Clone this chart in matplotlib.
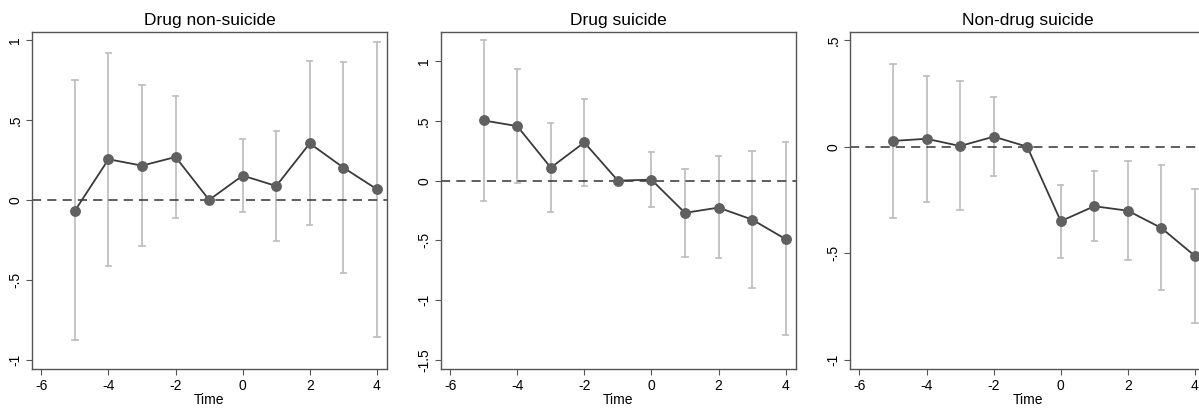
import matplotlib.pyplot as plt
from matplotlib.ticker import FuncFormatter

plt.rcParams["font.family"] = ["Liberation Sans", "DejaVu Sans"]

time = [-5, -4, -3, -2, -1, 0, 1, 2, 3, 4]

titles = ["Drug non-suicide", "Drug suicide", "Non-drug suicide"]

drug_nonsuicide = [-0.067, 0.254, 0.214, 0.268, 0.0, 0.152, 0.087, 0.353, 0.202, 0.067]
drug_nonsuicide_lo = [-0.875, -0.412, -0.285, -0.110, 0.0, -0.073, -0.256, -0.158, -0.455, -0.857]
drug_nonsuicide_hi = [0.748, 0.919, 0.715, 0.647, 0.0, 0.380, 0.430, 0.867, 0.859, 0.983]

drug_suicide = [0.504, 0.457, 0.109, 0.320, 0.0, 0.008, -0.270, -0.226, -0.326, -0.490]
drug_suicide_lo = [-0.167, -0.022, -0.262, -0.042, 0.0, -0.220, -0.641, -0.649, -0.900, -1.295]
drug_suicide_hi = [1.175, 0.939, 0.479, 0.680, 0.0, 0.237, 0.097, 0.203, 0.248, 0.320]

nondrug_suicide = [0.027, 0.037, 0.003, 0.047, 0.0, -0.349, -0.279, -0.300, -0.381, -0.512]
nondrug_suicide_lo = [-0.334, -0.257, -0.298, -0.139, 0.0, -0.521, -0.443, -0.530, -0.671, -0.825]
nondrug_suicide_hi = [0.388, 0.329, 0.307, 0.231, 0.0, -0.179, -0.115, -0.066, -0.087, -0.200]

x_ticks = [-6, -4, -2, 0, 2, 4]
y_ticks = [
    [-1, -0.5, 0, 0.5, 1],
    [-1.5, -1, -0.5, 0, 0.5, 1],
    [-1, -0.5, 0, 0.5],
]
y_limits = [(-1.056, 1.048), (-1.579, 1.245), (-1.042, 0.537)]


def stata_fmt(v, pos):
    if abs(v) < 1e-9:
        return "0"
    s = ("%g" % v)
    s = s.replace("0.", ".")
    return s


series = [
    (drug_nonsuicide, drug_nonsuicide_lo, drug_nonsuicide_hi),
    (drug_suicide, drug_suicide_lo, drug_suicide_hi),
    (nondrug_suicide, nondrug_suicide_lo, nondrug_suicide_hi),
]

fig = plt.figure(figsize=(11.99, 4.11), dpi=100)
lefts = [0.0267, 0.3676, 0.709]

for i, (est, lo, hi) in enumerate(series):
    ax = fig.add_axes([lefts[i], 0.102, 0.296, 0.820])
    for t, l, h in zip(time, lo, hi):
        if h == l:
            continue
        ax.plot([t, t], [l, h], color="#c0c0c0", lw=1.3, zorder=1)
        ax.plot([t - 0.08, t + 0.08], [l, l], color="#c0c0c0", lw=1.3, zorder=1)
        ax.plot([t - 0.08, t + 0.08], [h, h], color="#c0c0c0", lw=1.3, zorder=1)
    ax.axhline(0, color="#333333", lw=1.1, ls=(0, (6, 4)), zorder=2)
    ax.plot(time, est, color="#3a3a3a", lw=1.3, marker="o", markersize=6.8,
            markerfacecolor="#606060", markeredgecolor="#606060", zorder=3)
    ax.set_xlim(-6.28, 4.3)
    ax.set_ylim(*y_limits[i])
    ax.set_xticks(x_ticks)
    ax.set_yticks(y_ticks[i])
    ax.yaxis.set_major_formatter(FuncFormatter(stata_fmt))
    ax.xaxis.set_major_formatter(FuncFormatter(stata_fmt))
    for lab in ax.get_yticklabels():
        lab.set_rotation(90)
        lab.set_va("center")
    ax.tick_params(labelsize=10, length=4, width=0.8, color="#555555", pad=3)
    for sp in ax.spines.values():
        sp.set_color("#555555")
        sp.set_linewidth(1.0)
    ax.set_title(titles[i], fontsize=12.5, pad=5)
    ax.set_xlabel("Time", fontsize=10, labelpad=0)

fig.savefig("out.png", dpi=100)
